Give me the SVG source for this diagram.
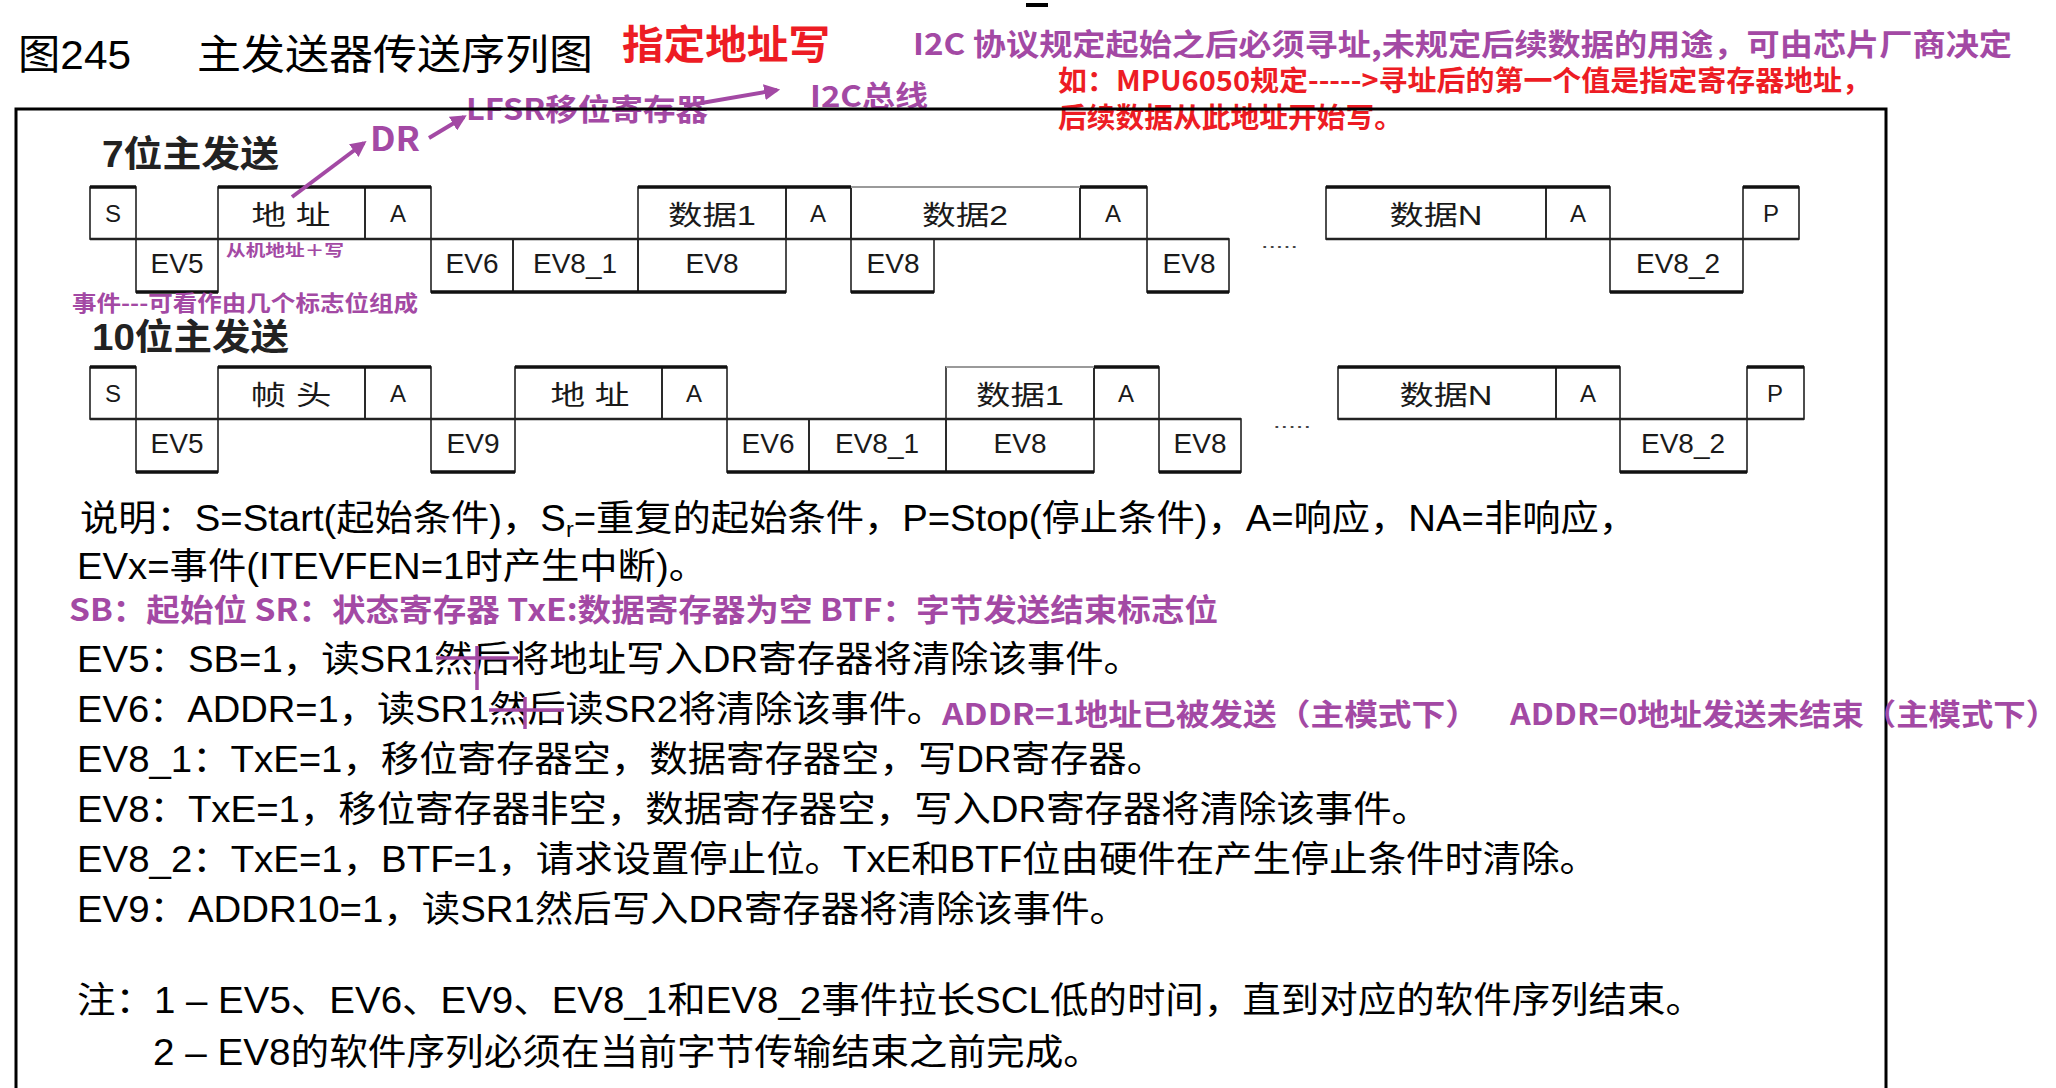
<svg xmlns="http://www.w3.org/2000/svg" width="2056" height="1088" viewBox="0 0 2056 1088">
<defs>
<marker id="ah" viewBox="0 0 10 10" refX="8" refY="5" markerWidth="4" markerHeight="4" orient="auto" markerUnits="strokeWidth">
<path d="M0,0 L10,5 L0,10 z" fill="#a349a4"/>
</marker>
</defs>
<style>
.frame{fill:none;stroke:#000;stroke-width:3}
.box{fill:none;stroke:#222;stroke-width:1.6}
.thick{stroke:#111;stroke-width:3.5;fill:none}
.mid{stroke:#222;stroke-width:2.6;fill:none}
.thin{stroke:#9a9a9a;stroke-width:2.2;fill:none}
.lbl{font-family:"Liberation Sans","Noto Sans CJK SC",sans-serif;fill:#1a1a1a;text-anchor:middle}
.up{font-size:24px}
.cj{font-size:27px}
.ev{font-size:28px}
.body{font-family:"Liberation Sans","Noto Sans CJK SC",sans-serif;font-size:36px;fill:#000}
.pb{font-family:"Noto Sans CJK SC",sans-serif;font-weight:bold;fill:#a349a4}
.rb{font-family:"Noto Sans CJK SC",sans-serif;font-weight:bold;fill:#ed1c24}
.hd{font-family:"Liberation Sans","Noto Sans CJK SC",sans-serif;font-weight:bold;font-size:36px;fill:#222}
.ttl{font-family:"Liberation Sans","Noto Sans CJK SC",sans-serif;font-size:41px;fill:#000}
.arrow{stroke:#a349a4;stroke-width:4;fill:none;marker-end:url(#ah)}
.mark{stroke:#a349a4;stroke-width:3.5;fill:none}
.dots{font-family:"Liberation Sans",sans-serif;font-size:18px;fill:#444}
</style>
<rect x="0" y="0" width="2056" height="1088" fill="#fff"/>
<rect x="1026" y="3" width="22" height="4" fill="#000"/>

<!-- title & annotations -->
<g id="title">
<text class="ttl" x="18" y="69" textLength="113" lengthAdjust="spacingAndGlyphs">图245</text>
<text class="ttl" x="197" y="69" textLength="396" lengthAdjust="spacingAndGlyphs">主发送器传送序列图</text>
<text class="rb" x="622" y="59" font-size="40" textLength="208" lengthAdjust="spacingAndGlyphs">指定地址写</text>
<text class="pb" x="913" y="55" font-size="30" textLength="1099" lengthAdjust="spacingAndGlyphs">I2C 协议规定起始之后必须寻址,未规定后续数据的用途，可由芯片厂商决定</text>
<text class="rb" x="1058" y="91" font-size="28" textLength="813" lengthAdjust="spacingAndGlyphs">如：MPU6050规定-----&gt;寻址后的第一个值是指定寄存器地址，</text>
<text class="rb" x="1058" y="128" font-size="28" textLength="345" lengthAdjust="spacingAndGlyphs">后续数据从此地址开始写。</text>
</g>

<g id="note-DR"><text class="pb" x="370" y="151" font-size="34" textLength="50" lengthAdjust="spacingAndGlyphs">DR</text></g>
<g id="note-LFSR"><text class="pb" x="466" y="120" font-size="30" textLength="242" lengthAdjust="spacingAndGlyphs">LFSR移位寄存器</text></g>
<g id="note-I2C"><text class="pb" x="810" y="107" font-size="29" textLength="118" lengthAdjust="spacingAndGlyphs">I2C总线</text></g>

<path class="frame" d="M16,1095 V109 H1886 V1095"/>

<!-- 7-bit row -->
<g id="row7">
<text class="hd" x="102" y="167" textLength="177" lengthAdjust="spacingAndGlyphs">7位主发送</text>
<g id="r1-S"><rect class="box" x="90" y="187" width="46" height="52"/><text class="lbl up" x="113" y="222">S</text></g>
<g id="r1-addr"><rect class="box" x="218" y="187" width="147" height="52"/><text class="lbl cj" x="291" y="225" textLength="79" lengthAdjust="spacingAndGlyphs">地 址</text></g>
<g id="r1-A1"><rect class="box" x="365" y="187" width="66" height="52"/><text class="lbl up" x="398" y="222">A</text></g>
<g id="r1-d1"><rect class="box" x="638" y="187" width="148" height="52"/><text class="lbl cj" x="712" y="225" textLength="88" lengthAdjust="spacingAndGlyphs">数据1</text></g>
<g id="r1-A2"><rect class="box" x="786" y="187" width="65" height="52"/><text class="lbl up" x="818" y="222">A</text></g>
<g id="r1-d2"><rect class="box" x="851" y="187" width="229" height="52"/><text class="lbl cj" x="965" y="225" textLength="86" lengthAdjust="spacingAndGlyphs">数据2</text></g>
<g id="r1-A3"><rect class="box" x="1080" y="187" width="67" height="52"/><text class="lbl up" x="1113" y="222">A</text></g>
<g id="r1-dN"><rect class="box" x="1326" y="187" width="220" height="52"/><text class="lbl cj" x="1436" y="225" textLength="93" lengthAdjust="spacingAndGlyphs">数据N</text></g>
<g id="r1-A4"><rect class="box" x="1546" y="187" width="64" height="52"/><text class="lbl up" x="1578" y="222">A</text></g>
<g id="r1-P"><rect class="box" x="1743" y="187" width="56" height="52"/><text class="lbl up" x="1771" y="222">P</text></g>
<g id="r1-EV5"><rect class="box" x="136" y="239" width="82" height="53"/><text class="lbl ev" x="177" y="273">EV5</text></g>
<g id="r1-EV6"><rect class="box" x="431" y="239" width="82" height="53"/><text class="lbl ev" x="472" y="273">EV6</text></g>
<g id="r1-EV8_1"><rect class="box" x="513" y="239" width="125" height="53"/><text class="lbl ev" x="575" y="273">EV8_1</text></g>
<g id="r1-EV8a"><rect class="box" x="638" y="239" width="148" height="53"/><text class="lbl ev" x="712" y="273">EV8</text></g>
<g id="r1-EV8b"><rect class="box" x="851" y="239" width="83" height="53"/><text class="lbl ev" x="893" y="273">EV8</text></g>
<g id="r1-EV8c"><rect class="box" x="1147" y="239" width="82" height="53"/><text class="lbl ev" x="1189" y="273">EV8</text></g>
<g id="r1-EV8_2"><rect class="box" x="1610" y="239" width="133" height="53"/><text class="lbl ev" x="1678" y="273">EV8_2</text></g>
<path class="thick" d="M90,187 H136 M218,187 H431 M638,187 H851 M1080,187 H1147 M1326,187 H1610 M1743,187 H1799"/>
<path class="thin" d="M851,187 H1080"/>
<path class="thick" d="M136,292 H218 M431,292 H786 M851,292 H934 M1147,292 H1229 M1610,292 H1743"/>
<path class="mid" d="M90,239 H1229 M1326,239 H1799"/>
<text class="dots" x="1261" y="248" textLength="37" lengthAdjust="spacingAndGlyphs">.....</text>
<text class="pb" x="226" y="256" font-size="16" textLength="118" lengthAdjust="spacingAndGlyphs">从机地址＋写</text>
<text class="pb" x="72" y="311" font-size="22" textLength="346" lengthAdjust="spacingAndGlyphs">事件---可看作由几个标志位组成</text>
</g>

<!-- 10-bit row -->
<g id="row10">
<text class="hd" x="92" y="350" textLength="197" lengthAdjust="spacingAndGlyphs">10位主发送</text>
<g id="r2-S"><rect class="box" x="90" y="367" width="46" height="52"/><text class="lbl up" x="113" y="402">S</text></g>
<g id="r2-hdr"><rect class="box" x="218" y="367" width="147" height="52"/><text class="lbl cj" x="291" y="405" textLength="81" lengthAdjust="spacingAndGlyphs">帧 头</text></g>
<g id="r2-A1"><rect class="box" x="365" y="367" width="66" height="52"/><text class="lbl up" x="398" y="402">A</text></g>
<g id="r2-addr"><rect class="box" x="515" y="367" width="147" height="52"/><text class="lbl cj" x="590" y="405" textLength="79" lengthAdjust="spacingAndGlyphs">地 址</text></g>
<g id="r2-A2"><rect class="box" x="662" y="367" width="65" height="52"/><text class="lbl up" x="694" y="402">A</text></g>
<g id="r2-d1"><rect class="box" x="946" y="367" width="148" height="52"/><text class="lbl cj" x="1020" y="405" textLength="88" lengthAdjust="spacingAndGlyphs">数据1</text></g>
<g id="r2-A3"><rect class="box" x="1094" y="367" width="65" height="52"/><text class="lbl up" x="1126" y="402">A</text></g>
<g id="r2-dN"><rect class="box" x="1338" y="367" width="218" height="52"/><text class="lbl cj" x="1446" y="405" textLength="93" lengthAdjust="spacingAndGlyphs">数据N</text></g>
<g id="r2-A4"><rect class="box" x="1556" y="367" width="64" height="52"/><text class="lbl up" x="1588" y="402">A</text></g>
<g id="r2-P"><rect class="box" x="1747" y="367" width="57" height="52"/><text class="lbl up" x="1775" y="402">P</text></g>
<g id="r2-EV5"><rect class="box" x="136" y="419" width="82" height="53"/><text class="lbl ev" x="177" y="453">EV5</text></g>
<g id="r2-EV9"><rect class="box" x="431" y="419" width="84" height="53"/><text class="lbl ev" x="473" y="453">EV9</text></g>
<g id="r2-EV6"><rect class="box" x="727" y="419" width="82" height="53"/><text class="lbl ev" x="768" y="453">EV6</text></g>
<g id="r2-EV8_1"><rect class="box" x="809" y="419" width="137" height="53"/><text class="lbl ev" x="877" y="453">EV8_1</text></g>
<g id="r2-EV8a"><rect class="box" x="946" y="419" width="148" height="53"/><text class="lbl ev" x="1020" y="453">EV8</text></g>
<g id="r2-EV8b"><rect class="box" x="1159" y="419" width="82" height="53"/><text class="lbl ev" x="1200" y="453">EV8</text></g>
<g id="r2-EV8_2"><rect class="box" x="1620" y="419" width="127" height="53"/><text class="lbl ev" x="1683" y="453">EV8_2</text></g>
<path class="thick" d="M90,367 H136 M218,367 H431 M515,367 H727 M1094,367 H1159 M1338,367 H1620 M1747,367 H1804"/>
<path class="thin" d="M946,367 H1094"/>
<path class="thick" d="M136,472 H218 M431,472 H515 M727,472 H1094 M1159,472 H1241 M1620,472 H1747"/>
<path class="mid" d="M90,419 H1241 M1338,419 H1804"/>
<text class="dots" x="1273" y="428" textLength="38" lengthAdjust="spacingAndGlyphs">.....</text>
</g>

<!-- connectors -->
<g id="connectors">
<path class="arrow" d="M292,197 L364,143"/>
<path class="arrow" d="M429,138 L464,117"/>
<path class="arrow" d="M684,106 L777,90"/>
</g>

<!-- explanation text -->
<g id="notes">
<text class="body" x="80" y="531" textLength="1557" lengthAdjust="spacingAndGlyphs">说明：S=Start(起始条件)，S<tspan font-size="22" dy="6">r</tspan><tspan dy="-6">=重复的起始条件，P=Stop(停止条件)，A=响应，NA=非响应，</tspan></text>
<text class="body" x="77" y="579" textLength="630" lengthAdjust="spacingAndGlyphs">EVx=事件(ITEVFEN=1时产生中断)。</text>
<text class="pb" x="69" y="621" font-size="31" textLength="1149" lengthAdjust="spacingAndGlyphs">SB：起始位 SR：状态寄存器 TxE:数据寄存器为空  BTF：字节发送结束标志位</text>
<text class="body" x="77" y="672" textLength="1065" lengthAdjust="spacingAndGlyphs">EV5：SB=1，读SR1然后将地址写入DR寄存器将清除该事件。</text>
<text class="body" x="77" y="722" textLength="868" lengthAdjust="spacingAndGlyphs">EV6：ADDR=1，读SR1然后读SR2将清除该事件。</text>
<text class="pb" x="942" y="725" font-size="30" textLength="537" lengthAdjust="spacingAndGlyphs">ADDR=1地址已被发送（主模式下）</text>
<text class="pb" x="1510" y="725" font-size="30" textLength="548" lengthAdjust="spacingAndGlyphs">ADDR=0地址发送未结束（主模式下）</text>
<text class="body" x="77" y="772" textLength="1088" lengthAdjust="spacingAndGlyphs">EV8_1：TxE=1，移位寄存器空，数据寄存器空，写DR寄存器。</text>
<text class="body" x="77" y="822" textLength="1353" lengthAdjust="spacingAndGlyphs">EV8：TxE=1，移位寄存器非空，数据寄存器空，写入DR寄存器将清除该事件。</text>
<text class="body" x="77" y="872" textLength="1521" lengthAdjust="spacingAndGlyphs">EV8_2：TxE=1，BTF=1，请求设置停止位。TxE和BTF位由硬件在产生停止条件时清除。</text>
<text class="body" x="77" y="922" textLength="1051" lengthAdjust="spacingAndGlyphs">EV9：ADDR10=1，读SR1然后写入DR寄存器将清除该事件。</text>
<text class="body" x="77" y="1013" textLength="1627" lengthAdjust="spacingAndGlyphs">注：1 – EV5、EV6、EV9、EV8_1和EV8_2事件拉长SCL低的时间，直到对应的软件序列结束。</text>
<text class="body" x="153" y="1065" textLength="949" lengthAdjust="spacingAndGlyphs">2 – EV8的软件序列必须在当前字节传输结束之前完成。</text>
<path class="mark" d="M436,658 H518 M477,646 V690"/>
<path class="mark" d="M489,710 H564 M525,697 V729"/>
</g>
</svg>
